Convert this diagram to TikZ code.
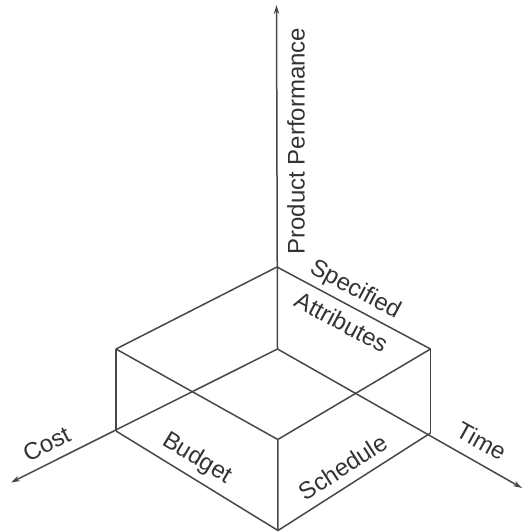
\documentclass[tikz,border=0pt]{standalone}
\usepackage{fontspec}
\setmainfont{Liberation Sans}
\usetikzlibrary{arrows.meta}
\begin{document}
\begin{tikzpicture}[x=1pt,y=-1pt,
  edge/.style={draw=black!72, line width=1.5pt},
  axis/.style={edge, -{Stealth[length=9pt,width=5.5pt]}},
  lbl/.style={text=black!80, font=\fontsize{24}{26}\selectfont, inner sep=0pt}]
\useasboundingbox (0,0) rectangle (524,532);
% origin of the three axes (hidden back corner of the box)
\coordinate (O) at (277.5,349);
% free ends of the axes
\coordinate (perfTip) at (276.5,5);
\coordinate (costTip) at (11,482.5);
\coordinate (timeTip) at (522,488);
% box corners
\coordinate (Tb) at (277,267);
\coordinate (Lt) at (116,349);
\coordinate (Lb) at (116,431);
\coordinate (Rt) at (430.5,349);
\coordinate (Rb) at (430.5,433);
\coordinate (Ft) at (277.8,439.5);
\coordinate (Fb) at (278,530.5);

% axes
\draw[axis] (O) -- (perfTip);
\draw[axis] (O) -- (costTip);
\draw[axis] (O) -- (timeTip);

% box edges
\draw[edge] (Lt) -- (Tb) -- (Rt);
\draw[edge] (Lt) -- (Ft) -- (Rt);
\draw[edge] (Lt) -- (Lb);
\draw[edge] (Rt) -- (Rb);
\draw[edge] (Ft) -- (Fb);
\draw[edge] (Lb) -- (Fb) -- (Rb);

% labels
\node[lbl, rotate=90] (perf) at (296,141) {Product Performance};
\node[lbl, rotate=-28] (spec) at (355,290) {Specified};
\node[lbl, rotate=-28] (attr) at (341.5,322) {Attributes};
\node[lbl, rotate=27] (cost) at (46.5,444) {Cost};
\node[lbl, rotate=-31] (budget) at (197,459) {Budget};
\node[lbl, rotate=33] (sched) at (343,467) {Schedule};
\node[lbl, rotate=-29] (time) at (481.5,441) {Time};
\end{tikzpicture}
\end{document}
